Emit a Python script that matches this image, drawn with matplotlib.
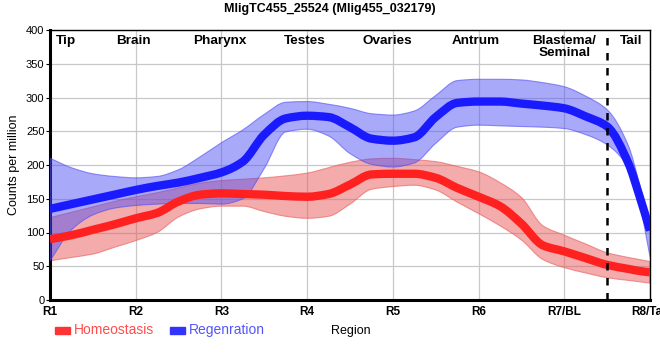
import matplotlib
matplotlib.use("Agg")
import numpy as np
import matplotlib.pyplot as plt
from matplotlib.patches import Rectangle, PathPatch
from matplotlib.path import Path

# ---- data ----
tick_labels = ["R1", "R2", "R3", "R4", "R5", "R6", "R7/BL", "R8/Tail"]
region_names = ["Tip", "Brain", "Pharynx", "Testes", "Ovaries", "Antrum", "Blastema/\nSeminal", "Tail"]
region_pos = [0.19, 0.97, 1.98, 2.97, 3.94, 4.97, 6.0, 6.78]
boundary = 6.5

pos = [0, 0.25, 0.5, 0.75, 1.0, 1.25, 1.5, 1.75, 2.0, 2.25, 2.5, 2.75, 3.0, 3.25,
       3.5, 3.75, 4.0, 4.25, 4.5, 4.75, 5.0, 5.25, 5.5, 5.75, 6.0, 6.25, 6.5, 6.75,
       6.875, 7.0]

homeo = [90, 96, 104, 112, 121, 129, 146, 156, 158, 157, 156, 154, 153, 157,
         171, 186, 187, 187, 181, 166, 153, 139, 113, 81, 72, 62, 52, 46, 43, 41]
homeo_hi = [122, 130, 138, 146, 153, 159, 166, 173, 177, 179, 181, 184, 188, 196,
            204, 209, 210, 208, 205, 198, 190, 174, 152, 110, 96, 83, 70, 63, 60, 57]
homeo_lo = [58, 63, 68, 78, 88, 100, 123, 135, 139, 139, 131, 124, 121, 124,
            142, 164, 168, 170, 163, 145, 128, 110, 89, 60, 48, 40, 33, 29, 27, 25]

regen = [135, 142, 149, 156, 163, 169, 174, 181, 189, 205, 245, 269, 273, 271,
         256, 239, 236, 241, 271, 292, 294, 294, 291, 288, 284, 272, 257, 202, 155, 103]
regen_hi = [210, 196, 187, 183, 181, 183, 193, 212, 233, 252, 275, 293, 294, 290,
            284, 276, 274, 280, 303, 325, 327, 327, 326, 322, 316, 302, 282, 228, 173, 109]
regen_lo = [58, 104, 126, 136, 140, 142, 143, 143, 142, 150, 195, 249, 253, 243,
            217, 201, 197, 203, 232, 256, 259, 258, 257, 256, 254, 245, 230, 195, 145, 64]


# ---- smooth (monotone cubic Bezier) path rendering helpers ----
def _tangents(x, y):
    x = np.asarray(x, float)
    y = np.asarray(y, float)
    h = np.diff(x)
    d = np.diff(y) / h
    m = np.zeros_like(y)
    m[0], m[-1] = d[0], d[-1]
    for i in range(1, len(y) - 1):
        if d[i - 1] * d[i] <= 0:
            m[i] = 0.0
        else:
            w1 = 2 * h[i] + h[i - 1]
            w2 = h[i] + 2 * h[i - 1]
            m[i] = (w1 + w2) / (w1 / d[i - 1] + w2 / d[i])
    return m


def _bezier(x, y, first=True):
    x = np.asarray(x, float)
    y = np.asarray(y, float)
    m = _tangents(x, y)
    verts, codes = [], []
    if first:
        verts.append((x[0], y[0]))
        codes.append(Path.MOVETO)
    for i in range(len(x) - 1):
        h = x[i + 1] - x[i]
        verts += [(x[i] + h / 3, y[i] + m[i] * h / 3),
                  (x[i + 1] - h / 3, y[i + 1] - m[i + 1] * h / 3),
                  (x[i + 1], y[i + 1])]
        codes += [Path.CURVE4] * 3
    return verts, codes


def smooth_line(ax, x, y, **kw):
    v, c = _bezier(x, y)
    ax.add_patch(PathPatch(Path(v, c), fill=False, **kw))


def smooth_band(ax, x, lo, hi, **kw):
    v1, c1 = _bezier(x, hi)
    v2, c2 = _bezier(x[::-1], lo[::-1], first=False)
    v = v1 + [(x[-1], lo[-1])] + v2 + [(x[0], hi[0])]
    c = c1 + [Path.LINETO] + c2 + [Path.CLOSEPOLY]
    ax.add_patch(PathPatch(Path(v, c), **kw))


# ---- figure ----
fig = plt.figure(figsize=(6.6, 3.6), dpi=100)
ax = fig.add_axes([50 / 660, 1 - 300 / 360, 600 / 660, 270 / 360])

red = "#ff2020"
blue = "#1a1aff"

smooth_band(ax, pos, homeo_lo, homeo_hi, facecolor=(0.91, 0.35, 0.35, 0.5),
            edgecolor=(0.91, 0.35, 0.35, 0.6), lw=0.8, zorder=2)
smooth_band(ax, pos, regen_lo, regen_hi, facecolor=(0.30, 0.30, 0.96, 0.48),
            edgecolor=(0.30, 0.30, 0.96, 0.6), lw=0.8, zorder=3)
smooth_line(ax, pos, homeo, edgecolor=red, lw=6, capstyle="butt", zorder=4)
smooth_line(ax, pos, regen, edgecolor=blue, lw=6, capstyle="butt", zorder=5)

ax.axvline(boundary, color="black", lw=1.8, ls=(0, (3, 3)), zorder=6)

ax.set_xlim(0, 7)
ax.set_ylim(0, 400)
ax.set_xticks(range(len(tick_labels)))
ax.set_xticklabels(tick_labels, fontweight="bold", fontsize=8.5, family="Liberation Sans")
ax.set_yticks(range(0, 401, 50))
ax.tick_params(axis="y", labelsize=8, length=3, pad=1)
ax.tick_params(axis="x", length=0, pad=4)
for lab in ax.get_yticklabels():
    lab.set_family("Liberation Sans")
ax.grid(True, color="#c8c8c8", lw=0.9, zorder=0)
ax.set_axisbelow(True)

for s in ["left", "bottom"]:
    ax.spines[s].set_linewidth(2.2)
for s in ["top", "right"]:
    ax.spines[s].set_linewidth(1.0)

for name, x in zip(region_names, region_pos):
    ax.text(x, 393, name, ha="center", va="top", fontweight="bold", fontsize=9.7,
            family="Liberation Sans", linespacing=1.0, zorder=7)

ax.set_ylabel("Counts per million", fontsize=9, family="Liberation Sans", labelpad=4)

fig.text(330 / 660, 1 - 9 / 360, "MligTC455_25524 (Mlig455_032179)", ha="center",
         va="center", fontweight="bold", fontsize=9, family="Liberation Sans")

# legend-like labels at the bottom
fig.patches.append(Rectangle((55 / 660, 1 - 334 / 360), 15 / 660, 7 / 360,
                             transform=fig.transFigure, color="#ff3333"))
fig.text(74 / 660, 1 - 330 / 360, "Homeostasis", color="#ff4d4d", fontsize=10,
         va="center", ha="left", family="Liberation Sans")
fig.patches.append(Rectangle((170 / 660, 1 - 334 / 360), 15 / 660, 7 / 360,
                             transform=fig.transFigure, color="#3333ff"))
fig.text(189 / 660, 1 - 330 / 360, "Regenration", color="#5555ff", fontsize=10,
         va="center", ha="left", family="Liberation Sans")
fig.text(351 / 660, 1 - 331 / 360, "Region", color="black", fontsize=9,
         va="center", ha="center", family="Liberation Sans")

fig.savefig("out.png", dpi=100)
